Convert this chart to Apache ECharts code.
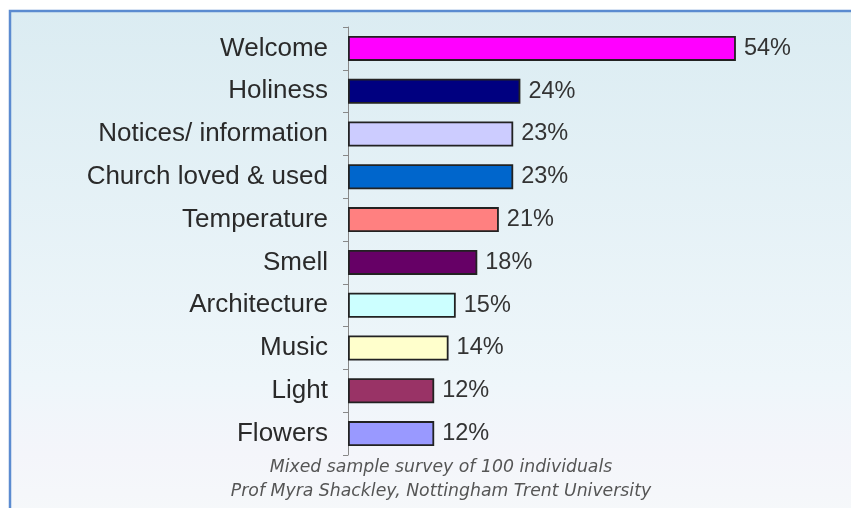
<!DOCTYPE html>
<html>
<head>
<meta charset="utf-8">
<script src="https://cdn.jsdelivr.net/npm/echarts@6/dist/echarts.min.js"></script>
<style>
html,body{margin:0;padding:0;background:#fff;}
#c{width:851px;height:508px;}
</style>
</head>
<body>
<div id="c"></div>
<script>
const categories = ['Welcome','Holiness','Notices/ information','Church loved & used','Temperature','Smell','Architecture','Music','Light','Flowers'];
const values = [54,24,23,23,21,18,15,14,12,12];
const barColors = ['#ff00ff','#000080','#ccccff','#0066cc','#ff8080','#660066','#ccffff','#ffffcc','#993366','#9999ff'];
const captionLines = ['Mixed sample survey of 100 individuals','Prof Myra Shackley, Nottingham Trent University'];

const chart = echarts.init(document.getElementById('c'), null, {renderer:'canvas'});
const option = {
  animation:false,
  backgroundColor:'#ffffff',
  graphic:[
    {type:'rect', z:-10, shape:{x:10,y:11,width:860,height:520},
     style:{fill:{type:'linear',x:0,y:0,x2:0,y2:1,colorStops:[
       {offset:0,color:'#dbecf2'},{offset:0.7,color:'#eef6fa'},{offset:0.85,color:'#f4f5fa'},{offset:1,color:'#f6f9fa'}]},
       stroke:'#5b8bd0', lineWidth:2.5}},
    {type:'text', x:441, y:456, z:10,
     style:{text:captionLines.join('\n'), fill:'#555', font:'italic 17.3px "DejaVu Sans"', textAlign:'center', lineHeight:24}}
  ],
  grid:{left:348, top:27, height:428, right:72},
  xAxis:{type:'value', min:0, max:60, show:false},
  yAxis:{type:'category', data:categories, inverse:true,
    axisLine:{lineStyle:{color:'#888', width:1}},
    axisTick:{show:true, length:5, lineStyle:{color:'#888'}},
    axisLabel:{color:'#2a2a2a', fontFamily:'Liberation Sans', fontSize:26, margin:20}},
  series:[{type:'bar', barWidth:25,
    data:values.map((v,i)=>({value:v, itemStyle:{color:barColors[i]}})),
    itemStyle:{borderColor:'#222', borderWidth:1.8},
    label:{show:true, position:'right', distance:8, color:'#333', fontFamily:'Liberation Sans', fontSize:23.5, formatter:'{c}%'}}]
};
chart.setOption(option);
</script>
</body>
</html>
